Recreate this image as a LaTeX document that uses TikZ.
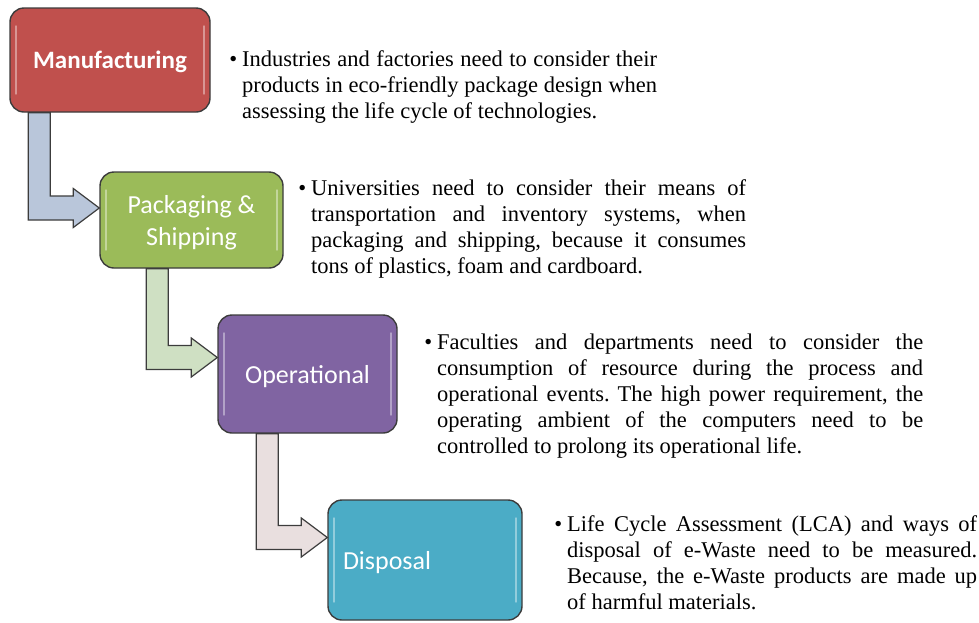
\documentclass[tikz,border=0pt]{standalone}
\usepackage{fontspec}
\usetikzlibrary{calc}
\newfontfamily\boxfont{Carlito}
\newfontfamily\descfont{Liberation Serif}
\hyphenpenalty=10000
\exhyphenpenalty=10000
\frenchspacing

\definecolor{mfgred}{HTML}{C0504D}
\definecolor{packgreen}{HTML}{9BBB59}
\definecolor{operpurple}{HTML}{8064A2}
\definecolor{dispteal}{HTML}{4BACC6}
\definecolor{arrowblue}{HTML}{B9C6DA}
\definecolor{arrowgreen}{HTML}{CFE0C3}
\definecolor{arrowrose}{HTML}{E9DFDF}
\definecolor{edgegray}{HTML}{3C3C3C}

\tikzset{
  stage/.style={draw=edgegray, line width=1.4pt, rounded corners=14pt, text=white, align=center, inner sep=0pt, text depth=0pt,
    path picture={\draw[white, opacity=.4, line width=1.4pt, line cap=round]
      ([xshift=6pt,yshift=-18pt]path picture bounding box.north west) -- ([xshift=6pt,yshift=18pt]path picture bounding box.south west)
      ([xshift=-6pt,yshift=-18pt]path picture bounding box.north east) -- ([xshift=-6pt,yshift=18pt]path picture bounding box.south east);}},
  bentarrow/.style={draw=edgegray, line width=1.2pt, line join=miter},
  desc/.style={anchor=north west, inner sep=0pt, align=justify, font=\descfont\fontsize{22.5}{26}\selectfont},
}

\newcommand{\stageArrow}[4]{%
  \draw[bentarrow, fill=#3] let \p1=(#1.south), \p2=(#2.west) in
    (\x2-71pt,\y1) -- (\x2-49pt,\y1) -- (\x2-49pt,\y2+#4+12pt) -- (\x2-26pt,\y2+#4+12pt)
    -- (\x2-26pt,\y2+#4+19.5pt) -- (\x2,\y2+#4) -- (\x2-26pt,\y2+#4-19.5pt)
    -- (\x2-26pt,\y2+#4-12pt) -- (\x2-71pt,\y2+#4-12pt) -- cycle;}

\newcommand{\bulletMark}{\llap{\textbullet\hspace{5pt}}}

\begin{document}
\begin{tikzpicture}[x=1pt, y=-1pt]
    \useasboundingbox (0,0) rectangle (979,622);

    \node[stage, fill=mfgred, minimum width=200, minimum height=104,
      font=\boxfont\bfseries\fontsize{25}{30}\selectfont] (manuf) at (110,60) {Manufacturing};
    \node[stage, fill=packgreen, minimum width=183, minimum height=96,
      font=\boxfont\fontsize{26}{32}\selectfont] (pack) at (191.5,220) {Packaging \&\\Shipping};
    \node[stage, fill=operpurple, minimum width=179, minimum height=118,
      font=\boxfont\fontsize{26}{32}\selectfont] (oper) at (307.5,374) {Operational};
    \node[stage, fill=dispteal, minimum width=194, minimum height=120, text width=164, align=left,
      font=\boxfont\fontsize{26}{32}\selectfont] (disp) at (425,560) {Disposal};

    \stageArrow{manuf}{pack}{arrowblue}{12pt}
    \stageArrow{pack}{oper}{arrowgreen}{16.5pt}
    \stageArrow{oper}{disp}{arrowrose}{22.5pt}

    \node[desc, text width=415] (manufText) at (242,50) {\bulletMark Industries and factories need to consider their\linebreak
      products in eco-friendly package design when\linebreak
      assessing the life cycle of technologies.};
    \node[desc, text width=435] (packText) at (311,179) {\bulletMark Universities need to consider their means of\linebreak
      transportation and inventory systems, when\linebreak
      packaging and shipping, because it consumes\linebreak
      tons of plastics, foam and cardboard.};
    \node[desc, text width=486] (operText) at (437,334) {\bulletMark Faculties and departments need to consider the\linebreak
      consumption of resource during the process and\linebreak
      operational events. The high power requirement, the\linebreak
      operating ambient of the computers need to be\linebreak
      controlled to prolong its operational life.};
    \node[desc, text width=410] (dispText) at (567,515) {\bulletMark Life Cycle Assessment (LCA) and ways of\linebreak
      disposal of e-Waste need to be measured.\linebreak
      Because, the e-Waste products are made up\linebreak
      of harmful materials.};
\end{tikzpicture}
\end{document}
